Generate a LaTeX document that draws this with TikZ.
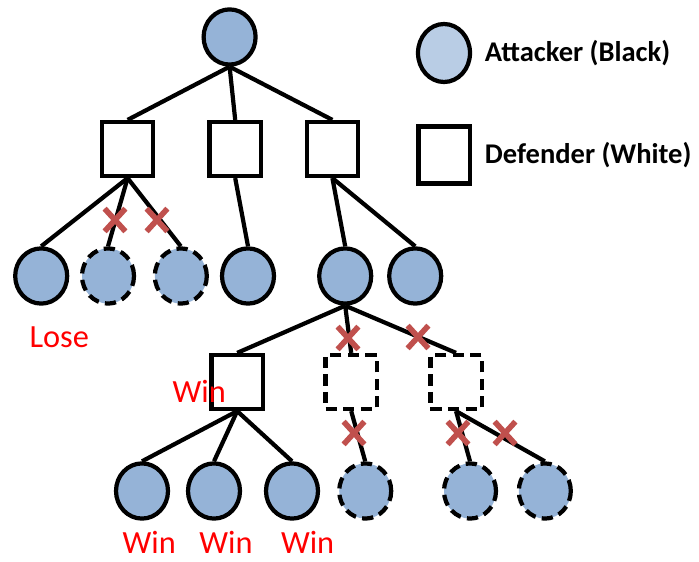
\documentclass[tikz,border=0pt]{standalone}
\usepackage{fontspec}
\setmainfont{Carlito}
\usetikzlibrary{positioning,shapes.geometric,shapes.misc}

% node colours
\definecolor{colA}{HTML}{95B3D7}
\definecolor{colLegend}{HTML}{B9CDE5}
\definecolor{colCut}{HTML}{C0504D}

\tikzset{
  % attacker to move (circle)
  attacker/.style={ellipse, draw, line width=3pt, fill=colA,
    minimum width=1.3cm, minimum height=1.38cm, inner sep=0pt},
  % defender to move (square)
  defender/.style={rectangle, draw, line width=3pt, fill=white,
    minimum width=1.28cm, minimum height=1.35cm, inner sep=0pt},
  % nodes that are never searched
  pruned/.style={dash pattern=on 8pt off 4.5pt},
  edge/.style={line width=3pt},
  % red cross on a cut branch
  cut/.style={cross out, draw=colCut, line width=4pt,
    minimum width=0.38cm, minimum height=0.43cm, inner sep=0pt},
  result/.style={text=red, font=\fontsize{23}{27}\selectfont,
    anchor=base, inner sep=0pt},
  legendtext/.style={anchor=west, font=\bfseries\fontsize{20.3}{24}\selectfont},
}

\begin{document}
\begin{tikzpicture}

  \useasboundingbox (0,0) rectangle (17.475,14.025);

  % legend
  \node[attacker, fill=colLegend, minimum height=1.45cm] (legA) at (11.10, 12.70) {};
  \node[defender, minimum height=1.42cm] (legD) at (11.10, 10.15) {};
  \node[legendtext] at (12.0, 12.70) {Attacker (Black)};
  \node[legendtext] at (12.0, 10.15) {Defender (White)};

  % root and first defender level
  \node[attacker] (root) at (5.74, 13.10) {};
  \node[defender] (dL) at (3.19, 10.30) {};
  \node[defender] (dM) at (5.88, 10.30) {};
  \node[defender] (dR) at (8.31, 10.30) {};

  % second attacker level
  \node[attacker] (a1) at (1.03, 7.125) {};
  \node[attacker, pruned] (a2) at (2.70, 7.125) {};
  \node[attacker, pruned] (a3) at (4.52, 7.125) {};
  \node[attacker] (a4) at (6.20, 7.125) {};
  \node[attacker] (a5) at (8.63, 7.125) {};
  \node[attacker] (a6) at (10.38, 7.125) {};

  % second defender level
  \node[defender] (d1) at (5.93, 4.475) {};
  \node[defender, pruned] (d2) at (8.78, 4.475) {};
  \node[defender, pruned] (d3) at (11.40, 4.475) {};

  % leaves
  \node[attacker] (b1) at (3.55, 1.75) {};
  \node[attacker] (b2) at (5.35, 1.75) {};
  \node[attacker] (b3) at (7.30, 1.75) {};
  \node[attacker, pruned] (b4) at (9.13, 1.75) {};
  \node[attacker, pruned] (b5) at (11.75, 1.75) {};
  \node[attacker, pruned] (b6) at (13.62, 1.75) {};

  % tree edges
  \draw[edge] (root.south) -- (dL.north);
  \draw[edge] (root.south) -- (dM.north);
  \draw[edge] (root.south) -- (dR.north);
  \draw[edge] (dL.south) -- (a1.north);
  \draw[edge] (dL.south) -- (a2.north);
  \draw[edge] (dL.south) -- (a3.north);
  \draw[edge] (dM.south) -- (a4.north);
  \draw[edge] (dR.south) -- (a5.north);
  \draw[edge] (dR.south) -- (a6.north);
  \draw[edge] (a5.south) -- (d1.north);
  \draw[edge] (a5.south) -- (d2.north);
  \draw[edge] (a5.south) -- (d3.north);
  \draw[edge] (d1.south) -- (b1.north);
  \draw[edge] (d1.south) -- (b2.north);
  \draw[edge] (d1.south) -- (b3.north);
  \draw[edge] (d2.south) -- (b4.north);
  \draw[edge] (d3.south) -- (b5.north);
  \draw[edge] (d3.south) -- (b6.north);

  % cut branches
  \node[cut] (cut1) at (2.875, 8.525) {};
  \node[cut] (cut2) at (3.925, 8.525) {};
  \node[cut] (cut3) at (8.70, 5.575) {};
  \node[cut] (cut4) at (10.45, 5.60) {};
  \node[cut] (cut5) at (8.85, 3.20) {};
  \node[cut] (cut6) at (11.45, 3.20) {};
  \node[cut] (cut7) at (12.625, 3.20) {};

  % outcomes
  \node[result] at (1.48, 5.35) {Lose};
  \node[result] at (4.98, 3.975) {Win};
  \node[result] at (3.73, 0.2) {Win};
  \node[result] at (5.65, 0.2) {Win};
  \node[result] at (7.69, 0.2) {Win};

\end{tikzpicture}
\end{document}
